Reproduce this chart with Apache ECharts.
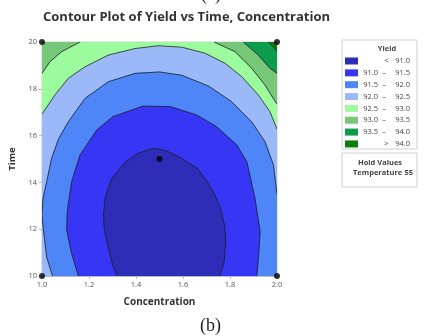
<!DOCTYPE html>
<html>
<head>
<meta charset="utf-8">
<title>Contour Plot of Yield</title>
<script src="https://cdn.jsdelivr.net/npm/echarts@6/dist/echarts.min.js"></script>
<style>
  html, body { margin: 0; padding: 0; background: #fff; }
  #chart { width: 435px; height: 336px; }
</style>
</head>
<body>
<div id="chart"></div>
<script>
// legend levels and colours (Yield bands)
const levelLabels = [['<', '', '91.0'], ['91.0', '–', '91.5'], ['91.5', '–', '92.0'], ['92.0', '–', '92.5'],
  ['92.5', '–', '93.0'], ['93.0', '–', '93.5'], ['93.5', '–', '94.0'], ['>', '', '94.0']]
const levelColors = ['#2d2db8', '#3636f4', '#4f86f7', '#9bb9f9', '#9cfb9c', '#77c779', '#0d9c4c', '#0a7d0a']

// contour lines, [Concentration, Time]
const contour91_0 = [[1.32, 10.0], [1.30, 10.5], [1.282, 11.2], [1.265, 12.0], [1.262, 12.6], [1.268, 13.3],
  [1.297, 14.18], [1.353, 14.85], [1.41, 15.25], [1.474, 15.46], [1.53, 15.35], [1.59, 15.05], [1.661, 14.6],
  [1.705, 14.0], [1.736, 13.46], [1.762, 12.8], [1.776, 12.2], [1.782, 11.5], [1.775, 10.6], [1.757, 10.0]]
const contour91_5 = [[1.155, 10.0], [1.125, 11.0], [1.105, 12.0], [1.108, 12.8], [1.126, 14.02], [1.162, 15.17],
  [1.233, 16.24], [1.302, 16.81], [1.43, 17.26], [1.545, 17.24], [1.658, 16.88], [1.743, 16.38], [1.829, 15.6],
  [1.872, 14.87], [1.906, 13.33], [1.928, 11.9], [1.922, 10.9], [1.914, 10.0]]
const contour92_0 = [[1.045, 10.0], [1.02, 10.8], [1.006, 11.97], [1.0, 12.6], [1.004, 13.3], [1.02, 14.03],
  [1.041, 15.03], [1.07, 15.85], [1.112, 16.59], [1.183, 17.59], [1.282, 18.3], [1.396, 18.66], [1.5, 18.72],
  [1.594, 18.58], [1.708, 18.12], [1.807, 17.45], [1.892, 16.59], [1.949, 15.74], [1.985, 14.74], [2.0, 13.5]]
const contour92_5 = [[1.0, 16.92], [1.055, 17.74], [1.112, 18.45], [1.183, 18.94], [1.282, 19.44], [1.396, 19.72],
  [1.494, 19.84], [1.594, 19.78], [1.694, 19.52], [1.779, 19.09], [1.85, 18.52], [1.92, 17.74], [1.97, 17.02],
  [2.0, 16.28]]
const contour93_0L = [[1.0, 18.66], [1.034, 19.16], [1.084, 19.59], [1.162, 20.0]]
const contour93_0R = [[1.732, 20.0], [1.821, 19.59], [1.892, 18.88], [1.949, 18.16], [1.984, 17.59], [2.0, 17.35]]
const contour93_5 = [[1.857, 20.0], [1.92, 19.44], [1.97, 18.88], [2.0, 18.66]]
const contour94_0 = [[1.965, 20.0], [2.0, 19.6]]

// design points
const designPoints = [[1, 10], [1, 20], [2, 10], [2, 20], [1.5, 15]]

const xTicks = [1.0, 1.2, 1.4, 1.6, 1.8, 2.0]
const yTicks = [10, 12, 14, 16, 18, 20]

// filled regions: contour + corners that close it, band index
const regions = [
  { line: [], close: [[1, 10], [2, 10], [2, 20], [1, 20]], band: 3 },
  { line: contour92_0, close: [[2, 10]], band: 2 },
  { line: contour91_5, close: [], band: 1 },
  { line: contour91_0, close: [], band: 0 },
  { line: contour92_5, close: [[2, 20], [1, 20]], band: 4 },
  { line: contour93_0L, close: [[1, 20]], band: 5 },
  { line: contour93_0R, close: [[2, 20]], band: 5 },
  { line: contour93_5, close: [[2, 20]], band: 6 },
  { line: contour94_0, close: [[2, 20]], band: 7 }
]

const chart = echarts.init(document.getElementById('chart'))

const renderRegion = (params, api) => {
  const r = regions[api.value(2)]
  const fillPts = r.line.concat(r.close).map(p => api.coord(p))
  const children = [{
    type: 'polygon',
    shape: { points: fillPts },
    style: { fill: levelColors[r.band], stroke: levelColors[r.band], lineWidth: 0.5 }
  }]
  if (r.line.length) {
    children.push({
      type: 'polyline',
      shape: { points: r.line.map(p => api.coord(p)) },
      style: { stroke: '#1e1e2a', lineWidth: 0.8, fill: null }
    })
  }
  return { type: 'group', children }
}

// legend box graphics
const legendItems = []
legendItems.push({ type: 'rect', shape: { x: 342, y: 40, width: 75, height: 109 },
  style: { fill: '#fff', stroke: '#cfcfcf', lineWidth: 1 } })
legendItems.push({ type: 'text', x: 387, y: 49,
  style: { text: 'Yield', fontSize: 7.5, fontFamily: 'Open Sans', fontWeight: 'bold', fill: '#444',
    align: 'center', verticalAlign: 'middle' } })
levelLabels.forEach((lab, i) => {
  const cy = 61 + i * 11.85
  legendItems.push({ type: 'rect', shape: { x: 345, y: cy - 3.5, width: 13, height: 7 },
    style: { fill: levelColors[i] } })
  const txt = { fontSize: 7.5, fontFamily: 'Open Sans', fill: '#444', verticalAlign: 'middle' }
  if (lab[1]) {
    legendItems.push({ type: 'text', x: 378, y: cy, style: Object.assign({ text: lab[0], align: 'right' }, txt) })
    legendItems.push({ type: 'text', x: 384, y: cy, style: Object.assign({ text: lab[1], align: 'center' }, txt) })
  } else {
    legendItems.push({ type: 'text', x: 386.5, y: cy, style: Object.assign({ text: lab[0], align: 'center' }, txt) })
  }
  legendItems.push({ type: 'text', x: 410, y: cy, style: Object.assign({ text: lab[2], align: 'right' }, txt) })
})
legendItems.push({ type: 'rect', shape: { x: 342, y: 153, width: 75, height: 34 },
  style: { fill: '#fff', stroke: '#cfcfcf', lineWidth: 1 } })
legendItems.push({ type: 'text', x: 380, y: 163,
  style: { text: 'Hold Values', fontSize: 7.5, fontFamily: 'Open Sans', fontWeight: 'bold', fill: '#444',
    align: 'center', verticalAlign: 'middle' } })
legendItems.push({ type: 'text', x: 353, y: 173,
  style: { text: 'Temperature', fontSize: 7.5, fontFamily: 'Open Sans', fontWeight: 'bold', fill: '#444',
    align: 'left', verticalAlign: 'middle' } })
legendItems.push({ type: 'text', x: 413, y: 173,
  style: { text: '55', fontSize: 7.5, fontFamily: 'Open Sans', fontWeight: 'bold', fill: '#444',
    align: 'right', verticalAlign: 'middle' } })
// figure captions
legendItems.push({ type: 'text', x: 211, y: -14,
  style: { text: '(a)', fontSize: 18, fontFamily: 'Liberation Serif', fill: '#222', align: 'center' } })
legendItems.push({ type: 'text', x: 210.5, y: 326,
  style: { text: '(b)', fontSize: 18, fontFamily: 'Liberation Serif', fill: '#222',
    align: 'center', verticalAlign: 'middle' } })

const option = {
  animation: false,
  backgroundColor: '#fff',
  title: {
    text: 'Contour Plot of Yield vs Time, Concentration',
    left: 38, top: 6,
    textStyle: { fontFamily: 'Open Sans', fontSize: 13, fontWeight: 'bold', color: '#333' }
  },
  grid: { left: 42, top: 42, width: 235, height: 234, show: true, borderColor: '#cccccc', borderWidth: 1,
    containLabel: false, outerBoundsMode: 'none' },
  xAxis: {
    type: 'value', min: 1, max: 2, interval: 0.2,
    name: 'Concentration', nameLocation: 'middle', nameGap: 21,
    nameTextStyle: { fontFamily: 'Open Sans', fontSize: 10, fontWeight: 'bold', color: '#333' },
    axisLine: { show: true, lineStyle: { color: '#bbbbbb' } },
    axisTick: { show: true, length: 3, lineStyle: { color: '#bbbbbb' } },
    splitLine: { show: false },
    axisLabel: { fontFamily: 'Open Sans', fontSize: 7.5, color: '#555', margin: 5,
      formatter: v => (xTicks.includes(+v.toFixed(1)) ? v.toFixed(1) : '') }
  },
  yAxis: {
    type: 'value', min: 10, max: 20, interval: 2,
    name: 'Time', nameLocation: 'middle', nameGap: 25, nameRotate: 90,
    nameTextStyle: { fontFamily: 'Open Sans', fontSize: 9.5, fontWeight: 'bold', color: '#333' },
    axisLine: { show: true, lineStyle: { color: '#bbbbbb' } },
    axisTick: { show: true, length: 3, lineStyle: { color: '#bbbbbb' } },
    splitLine: { show: false },
    axisLabel: { fontFamily: 'Open Sans', fontSize: 7.5, color: '#555', margin: 5,
      formatter: v => (yTicks.includes(v) ? String(v) : '') }
  },
  series: [
    {
      type: 'custom',
      renderItem: renderRegion,
      clip: true,
      data: regions.map((r, i) => [1.5, 15, i]),
      z: 1
    },
    {
      type: 'scatter',
      data: designPoints,
      symbolSize: 6,
      itemStyle: { color: '#000' },
      clip: false,
      z: 5
    }
  ],
  graphic: legendItems
}

chart.setOption(option)
window.addEventListener('resize', () => chart.resize())
</script>
</body>
</html>
